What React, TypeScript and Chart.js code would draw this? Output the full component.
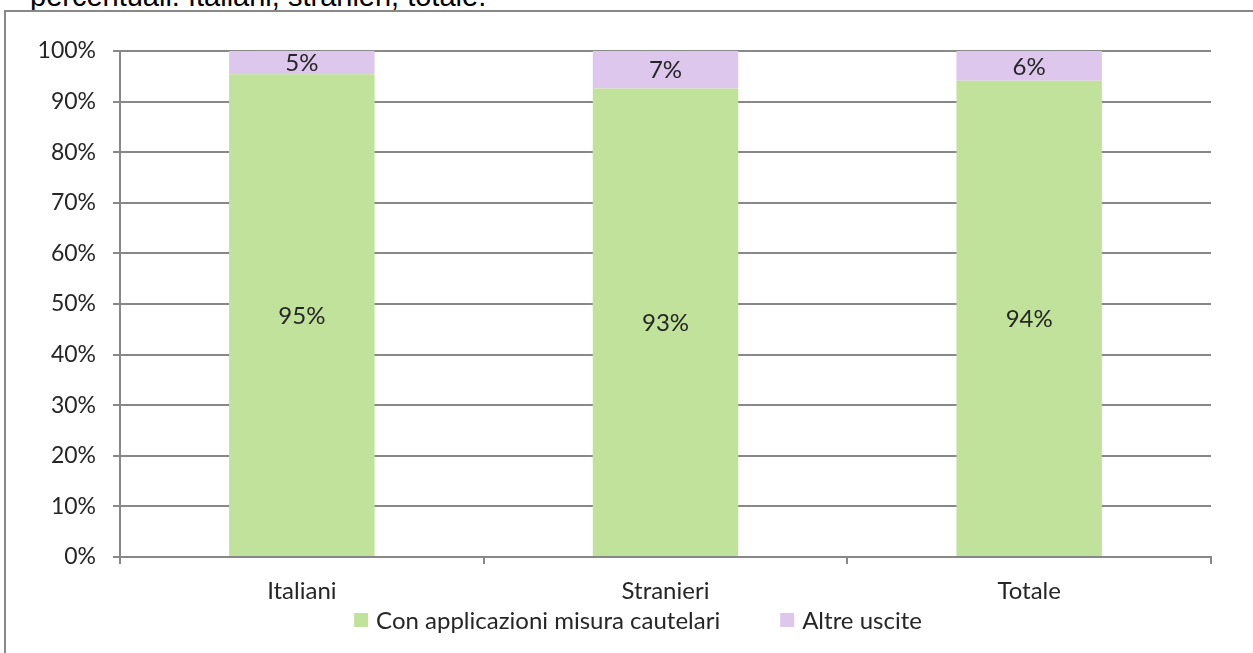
import React, { useEffect, useRef } from "react";
import { Chart, registerables } from "chart.js";

Chart.register(...registerables);

const categories = ["Italiani", "Stranieri", "Totale"];
const conMisura = [95.4, 92.6, 94.1];
const altreUscite = [4.6, 7.4, 5.9];
const seriesNames = ["Con applicazioni misura cautelari", "Altre uscite"];
const yTicks = [0, 10, 20, 30, 40, 50, 60, 70, 80, 90, 100];
const titleText = "percentuali. Italiani, stranieri, totale.";

const GREEN = "#C1E29A";
const PURPLE = "#DEC7ED";
const GRID = "#888888";
const TEXT = "#262626";
const FONT = "Lato, 'Open Sans', sans-serif";
const FS = 24;

const labelPlugin = {
  id: "barLabels",
  afterDatasetsDraw(chart: any) {
    const ctx = chart.ctx;
    ctx.save();
    ctx.font = `${FS}px ${FONT}`;
    ctx.fillStyle = TEXT;
    ctx.textAlign = "center";
    ctx.textBaseline = "middle";
    chart.data.datasets.forEach((ds: any, di: number) => {
      const meta = chart.getDatasetMeta(di);
      meta.data.forEach((el: any, i: number) => {
        const v = ds.data[i];
        const cy = (el.y + el.base) / 2;
        ctx.fillText(Math.round(v) + "%", el.x, cy + 1);
      });
    });
    ctx.restore();
  },
};

const legendPlugin = {
  id: "customLegend",
  afterDraw(chart: any) {
    const ctx = chart.ctx;
    ctx.save();
    ctx.font = `${FS}px ${FONT}`;
    ctx.textBaseline = "middle";
    ctx.textAlign = "left";
    const box = 14;
    const gap = 8;
    const itemGap = 60;
    const colors = [GREEN, PURPLE];
    const widths = seriesNames.map((n) => box + gap + ctx.measureText(n).width);
    const total = widths.reduce((a, b) => a + b, 0) + itemGap * (widths.length - 1);
    let x = chart.width / 2 + 8 - total / 2;
    const y = 607;
    seriesNames.forEach((n, i) => {
      ctx.fillStyle = colors[i];
      ctx.fillRect(x, y - box / 2, box, box);
      ctx.fillStyle = TEXT;
      ctx.fillText(n, x + box + gap, y + 1);
      x += widths[i] + itemGap;
    });
    ctx.restore();
  },
};

export default function App() {
  const ref = useRef<HTMLCanvasElement>(null);
  useEffect(() => {
    if (!ref.current) return;
    const chart = new Chart(ref.current, {
      type: "bar",
      data: {
        labels: categories,
        datasets: [
          {
            label: seriesNames[0],
            data: conMisura,
            backgroundColor: GREEN,
            borderWidth: 0,
            barPercentage: 0.4,
            categoryPercentage: 1,
          },
          {
            label: seriesNames[1],
            data: altreUscite,
            backgroundColor: PURPLE,
            borderWidth: 0,
            barPercentage: 0.4,
            categoryPercentage: 1,
          },
        ],
      },
      options: {
        animation: false,
        responsive: false,
        maintainAspectRatio: false,
        devicePixelRatio: 1,
        layout: { padding: { left: 0, top: 38, right: 42, bottom: 0 } },
        plugins: {
          legend: { display: false },
          tooltip: { enabled: false },
          title: { display: false },
        },
        scales: {
          x: {
            stacked: true,
            grid: {
              offset: true,
              drawOnChartArea: false,
              drawTicks: true,
              tickLength: 7,
              color: GRID,
              lineWidth: 2,
            },
            border: { display: true, color: GRID, width: 2 },
            ticks: {
              color: TEXT,
              font: { family: FONT, size: FS },
              padding: 13,
            },
            afterFit(scale: any) {
              scale.height = 96;
            },
          },
          y: {
            stacked: true,
            min: 0,
            max: 100,
            afterBuildTicks(scale: any) {
              scale.ticks = yTicks.map((v) => ({ value: v }));
            },
            grid: {
              color: GRID,
              lineWidth: 2,
              drawTicks: true,
              tickLength: 7,
            },
            border: { display: true, color: GRID, width: 2 },
            ticks: {
              color: TEXT,
              font: { family: FONT, size: 23 },
              padding: 17,
              callback: (v: any) => v + "%",
            },
            afterFit(scale: any) {
              scale.width = 113;
            },
          },
        },
      },
      plugins: [labelPlugin, legendPlugin],
    });
    return () => chart.destroy();
  }, []);

  return (
    <div style={{ position: "absolute", left: 0, top: 0, width: 1253, height: 653, overflow: "hidden", background: "#fff" }}>
      <div
        style={{
          position: "absolute",
          left: 30,
          top: -21,
          fontFamily: "'Liberation Sans', Arial, sans-serif",
          fontSize: 29,
          lineHeight: "34px",
          color: "#000",
          whiteSpace: "nowrap",
        }}
      >
        {titleText}
      </div>
      <div
        style={{
          position: "absolute",
          left: 4,
          top: 10,
          width: 1300,
          height: 700,
          borderLeft: "2px solid #888888",
          borderTop: "2px solid #888888",
          background: "#fff",
        }}
      />
      <canvas
        ref={ref}
        width={1246}
        height={640}
        style={{ position: "absolute", left: 7, top: 13, width: 1246, height: 640 }}
      />
    </div>
  );
}
